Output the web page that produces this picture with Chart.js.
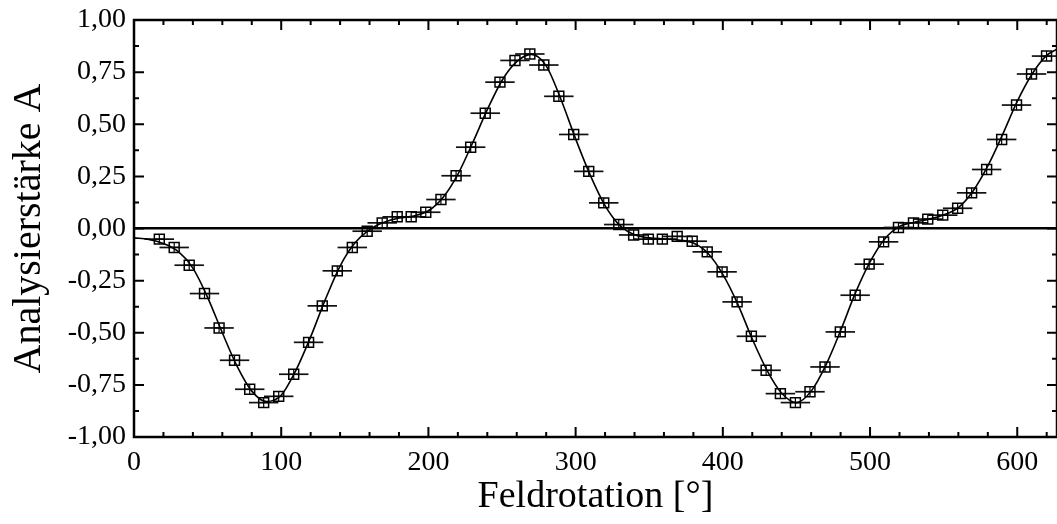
<!DOCTYPE html>
<html>
<head>
<meta charset="utf-8">
<script src="https://cdn.jsdelivr.net/npm/chart.js@4"></script>
<style>
  html, body { margin: 0; padding: 0; background: #fff; overflow: hidden; }
  #wrap { width: 1057px; height: 524px; }
</style>
</head>
<body>
<div id="wrap"><canvas id="myChart"></canvas></div>
<script>
// Messpunkte (Feldrotation in Grad, Analysierstärke A)
var angle = [17.2, 27.3, 37.5, 47.9, 57.8, 68.3, 78.6, 88.1, 98.3, 108.5, 118.6, 127.9, 138.1, 148.3, 158.4, 168.6, 178.8, 188.3, 198.2, 208.5,
             218.8, 228.7, 238.6, 248.6, 258.8, 268.9, 278.4, 288.6, 298.7, 308.9, 319.1, 329.3, 339.4, 349.4, 358.9, 369.0, 379.2, 389.4, 399.5, 409.7,
             419.4, 429.4, 439.1, 449.3, 459.2, 469.4, 479.8, 489.9, 499.4, 509.2, 519.3, 529.5, 539.2, 549.4, 559.5, 569.0, 579.2, 589.4, 599.5, 609.7, 619.9];
var asym = [-0.051, -0.091, -0.176, -0.312, -0.477, -0.632, -0.771, -0.835, -0.805, -0.699, -0.546, -0.371, -0.203, -0.091, -0.013, 0.027, 0.056, 0.056, 0.078, 0.139,
            0.253, 0.390, 0.553, 0.702, 0.806, 0.837, 0.784, 0.634, 0.451, 0.274, 0.123, 0.019, -0.031, -0.051, -0.051, -0.038, -0.061, -0.112, -0.208, -0.352,
            -0.517, -0.680, -0.792, -0.835, -0.783, -0.664, -0.496, -0.320, -0.171, -0.064, 0.005, 0.027, 0.045, 0.064, 0.097, 0.171, 0.283, 0.427, 0.592, 0.741, 0.827];
var angleErr = 10; // horizontaler Fehlerbalken +/- Grad

// Fitkurve
var fitX = [0, 10, 20, 30, 40, 50, 60, 70, 80, 90, 100, 110, 120, 130, 140, 150, 160, 170, 180, 190, 200, 210, 220, 230, 240, 250, 260, 270, 280, 290, 300, 310,
            320, 330, 340, 350, 360, 370, 380, 390, 400, 410, 420, 430, 440, 450, 460, 470, 480, 490, 500, 510, 520, 530, 540, 550, 560, 570, 580, 590, 600, 610, 620, 627];
var fitY = [-0.045, -0.052, -0.072, -0.11, -0.19, -0.33, -0.50, -0.66, -0.78, -0.83, -0.80, -0.68, -0.52, -0.34, -0.18, -0.07, -0.005, 0.03, 0.05, 0.06, 0.085, 0.15,
            0.26, 0.41, 0.57, 0.71, 0.80, 0.835, 0.78, 0.62, 0.43, 0.255, 0.11, 0.015, -0.03, -0.045, -0.05, -0.055, -0.07, -0.12, -0.22, -0.36, -0.53, -0.68, -0.79,
            -0.835, -0.78, -0.655, -0.49, -0.31, -0.16, -0.05, 0.01, 0.03, 0.045, 0.065, 0.10, 0.18, 0.30, 0.45, 0.61, 0.74, 0.83, 0.86];

var xMin = 0, xMax = 627, xMajor = 100, xMinor = 20;
var yMin = -1, yMax = 1, yMajor = 0.25, yMinor = 0.125;

var pts = angle.map(function (a, i) { return {x: a, y: asym[i]}; });
var fit = fitX.map(function (a, i) { return {x: a, y: fitY[i]}; });

var fontFam = '"Liberation Serif", "Times New Roman", serif';

// Rahmen, Ticks nach innen und Fehlerbalken
var deko = {
    id: 'deko',
    beforeDatasetsDraw: function (chart) {
        var ctx = chart.ctx, xs = chart.scales.x, ys = chart.scales.y;
        ctx.save();
        ctx.strokeStyle = '#111';
        ctx.lineWidth = 1.7;
        for (var i = 0; i < angle.length; i++) {
            var y = ys.getPixelForValue(asym[i]);
            ctx.beginPath();
            ctx.moveTo(xs.getPixelForValue(angle[i] - angleErr), y);
            ctx.lineTo(xs.getPixelForValue(angle[i] + angleErr), y);
            ctx.stroke();
        }
        ctx.restore();
    },
    afterDraw: function (chart) {
        var ctx = chart.ctx, a = chart.chartArea, xs = chart.scales.x, ys = chart.scales.y;
        ctx.save();
        ctx.strokeStyle = '#000';
        ctx.lineWidth = 2.5;
        ctx.strokeRect(a.left, a.top, a.right - a.left, a.bottom - a.top);
        ctx.lineWidth = 2;
        var v, p, len;
        for (v = xMin; v <= xMax; v += xMinor) {
            p = xs.getPixelForValue(v);
            len = (v % xMajor === 0) ? 10 : 5;
            ctx.beginPath();
            ctx.moveTo(p, a.bottom); ctx.lineTo(p, a.bottom - len);
            ctx.moveTo(p, a.top); ctx.lineTo(p, a.top + len);
            ctx.stroke();
        }
        for (v = yMin; v <= yMax + 1e-9; v += yMinor) {
            p = ys.getPixelForValue(v);
            len = (Math.abs(v / yMajor - Math.round(v / yMajor)) < 1e-6) ? 10 : 5;
            ctx.beginPath();
            ctx.moveTo(a.left, p); ctx.lineTo(a.left + len, p);
            ctx.moveTo(a.right, p); ctx.lineTo(a.right - len, p);
            ctx.stroke();
        }
        ctx.restore();
    }
};

new Chart(document.getElementById('myChart'), {
    type: 'scatter',
    data: {
        datasets: [
            {
                type: 'line',
                label: 'Fit',
                data: fit,
                borderColor: '#000',
                borderWidth: 1.6,
                pointRadius: 0,
                cubicInterpolationMode: 'monotone',
                fill: false,
                order: 3
            },
            {
                label: 'Messung',
                data: pts,
                pointStyle: 'rect',
                pointRadius: 7,
                backgroundColor: 'rgba(255,255,255,0)',
                borderColor: '#000',
                borderWidth: 1.5,
                order: 2
            },
            {
                label: 'Messung Fehler',
                data: pts,
                pointStyle: 'cross',
                pointRadius: 5,
                borderColor: '#000',
                borderWidth: 1.2,
                order: 1
            }
        ]
    },
    options: {
        responsive: true,
        maintainAspectRatio: false,
        animation: false,
        layout: {autoPadding: false, padding: {top: 20, right: 0, left: 0, bottom: 0}},
        plugins: {
            legend: {display: false},
            tooltip: {enabled: false}
        },
        scales: {
            x: {
                type: 'linear',
                min: xMin, max: xMax,
                afterFit: function (s) { s.height = 87; s.paddingLeft = 0; s.paddingRight = 0; },
                border: {display: false},
                grid: {display: false, drawTicks: false},
                ticks: {
                    stepSize: xMajor,
                    includeBounds: false,
                    padding: 9,
                    color: '#000',
                    maxRotation: 0,
                    font: {family: fontFam, size: 28}
                },
                title: {
                    display: true,
                    text: 'Feldrotation [°]',
                    color: '#000',
                    padding: {top: 0, bottom: 4},
                    font: {family: fontFam, size: 38}
                }
            },
            y: {
                type: 'linear',
                min: yMin, max: yMax,
                afterFit: function (s) { s.width = 134; s.paddingTop = 0; s.paddingBottom = 0; },
                border: {display: false},
                grid: {
                    drawTicks: false,
                    color: function (c) { return c.tick && c.tick.value === 0 ? '#000' : 'rgba(0,0,0,0)'; },
                    lineWidth: function (c) { return c.tick && c.tick.value === 0 ? 2.5 : 0; }
                },
                ticks: {
                    stepSize: yMajor,
                    padding: 8,
                    color: '#000',
                    font: {family: fontFam, size: 28},
                    callback: function (v) { return v.toFixed(2).replace('.', ','); }
                },
                title: {
                    display: true,
                    text: 'Analysierstärke A',
                    color: '#000',
                    padding: {top: 5, bottom: 0},
                    font: {family: fontFam, size: 40}
                }
            }
        }
    },
    plugins: [deko]
});
</script>
</body>
</html>
